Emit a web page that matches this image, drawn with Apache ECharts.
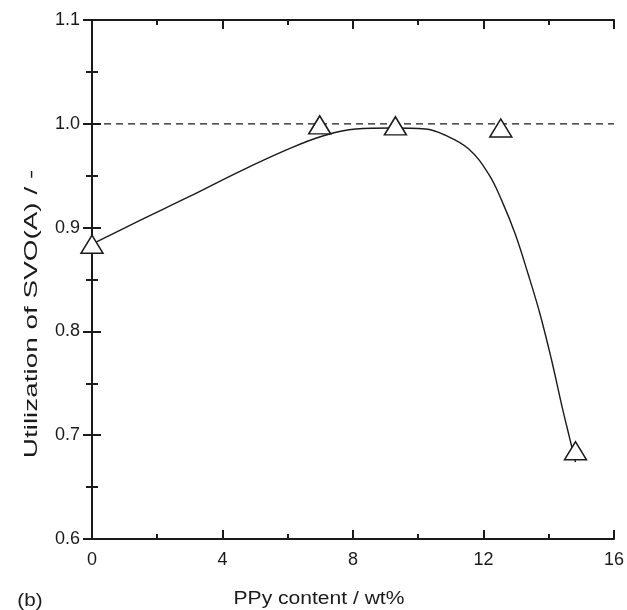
<!DOCTYPE html>
<html>
<head>
<meta charset="utf-8">
<script src="https://cdn.jsdelivr.net/npm/echarts@6/dist/echarts.min.js"></script>
<style>
  html, body { margin: 0; padding: 0; background: #fff; }
  #chart { width: 627px; height: 610px; }
</style>
</head>
<body>
<div id="chart"></div>
<script>
// Measured utilization of SVO(A) vs. PPy content
const ppyContent = [0, 6.98, 9.3, 12.53, 14.82];
const utilization = [0.884, 0.999, 0.998, 0.996, 0.685];

// Smooth trend curve through the data
const curveX = [0, 1.47, 2.99, 4.52, 6.05, 7.05, 8.08, 9.19, 10.22, 10.83, 11.54, 12.15, 12.56, 12.97, 13.37, 13.73, 14.09, 14.39, 14.65, 14.82];
const curveY = [0.884, 0.907, 0.930, 0.954, 0.976, 0.988, 0.995, 0.996, 0.995, 0.989, 0.976, 0.952, 0.926, 0.894, 0.855, 0.817, 0.772, 0.730, 0.696, 0.674];

// Reference level (full utilization)
const refX = [0, 16];
const refY = [1.0, 1.0];

// Axis ticks
const xTicks = [0, 4, 8, 12, 16];
const yTicks = [0.6, 0.7, 0.8, 0.9, 1.0, 1.1];

const xLabel = 'PPy content / wt%';
const yLabel = 'Utilization of SVO(A) / -';
const panelTag = '(b)';

const zip = (a, b) => a.map((v, i) => [v, b[i]]);

const font = 'Liberation Sans, Arial, sans-serif';
const ink = '#1a1a1a';

const frameLine = { show: true, lineStyle: { color: ink, width: 2 } };
const majorTick = { show: true, inside: true, length: 9, lineStyle: { color: ink, width: 2 } };

const chart = echarts.init(document.getElementById('chart'), null, { renderer: 'canvas' });

chart.setOption({
  animation: false,
  backgroundColor: '#fff',
  grid: { left: 92, right: 10, top: 20, bottom: 71, containLabel: false },
  xAxis: [
    {
      type: 'value', position: 'bottom',
      min: xTicks[0], max: xTicks[xTicks.length - 1], interval: 4,
      axisLine: frameLine,
      axisTick: majorTick,
      minorTick: { show: true, splitNumber: 2, length: 5, lineStyle: { color: ink, width: 2 } },
      splitLine: { show: false },
      axisLabel: { color: ink, fontSize: 18, fontFamily: font, margin: 12 }
    },
    {
      type: 'value', position: 'top',
      min: xTicks[0], max: xTicks[xTicks.length - 1], interval: 4,
      axisLine: frameLine,
      axisTick: majorTick,
      minorTick: { show: true, splitNumber: 2, length: 5, lineStyle: { color: ink, width: 2 } },
      splitLine: { show: false },
      axisLabel: { show: false }
    }
  ],
  yAxis: [
    {
      type: 'value', position: 'left',
      min: yTicks[0], max: yTicks[yTicks.length - 1], interval: 0.1,
      axisLine: frameLine,
      axisTick: majorTick,
      minorTick: { show: true, splitNumber: 2, length: 6, lineStyle: { color: ink, width: 2 } },
      splitLine: { show: false },
      axisLabel: { color: ink, fontSize: 18, fontFamily: font, margin: 12,
        formatter: v => v.toFixed(1) }
    },
    {
      type: 'value', position: 'right',
      min: yTicks[0], max: yTicks[yTicks.length - 1], interval: 0.1,
      axisLine: frameLine,
      axisTick: majorTick,
      minorTick: { show: true, splitNumber: 2, length: 6, lineStyle: { color: ink, width: 2 } },
      splitLine: { show: false },
      axisLabel: { show: false }
    }
  ],
  series: [
    {
      name: 'reference', type: 'line', data: zip(refX, refY),
      showSymbol: false, symbol: 'none',
      lineStyle: { color: ink, width: 1.2, type: [7, 5] },
      z: 1
    },
    {
      name: 'trend', type: 'line', data: zip(curveX, curveY),
      smooth: 0.4, showSymbol: false, symbol: 'none',
      lineStyle: { color: ink, width: 1.4 },
      z: 2
    },
    {
      name: 'utilization', type: 'scatter', data: zip(ppyContent, utilization),
      symbol: 'triangle', symbolSize: [22, 18],
      itemStyle: { color: '#fff', borderColor: ink, borderWidth: 1.5, opacity: 1 },
      z: 3
    }
  ],
  graphic: [
    {
      type: 'text', x: 319, y: 599, scaleX: 1.17,
      style: { text: xLabel, fill: ink, font: '18px ' + font, align: 'center', verticalAlign: 'middle' }
    },
    {
      type: 'text', x: 32, y: 314, rotation: Math.PI / 2, scaleX: 1.55,
      style: { text: yLabel, fill: ink, font: '18px ' + font, align: 'center', verticalAlign: 'middle' }
    },
    {
      type: 'text', x: 30, y: 601, scaleX: 1.15,
      style: { text: panelTag, fill: ink, font: '18px ' + font, align: 'center', verticalAlign: 'middle' }
    }
  ]
});
</script>
</body>
</html>
